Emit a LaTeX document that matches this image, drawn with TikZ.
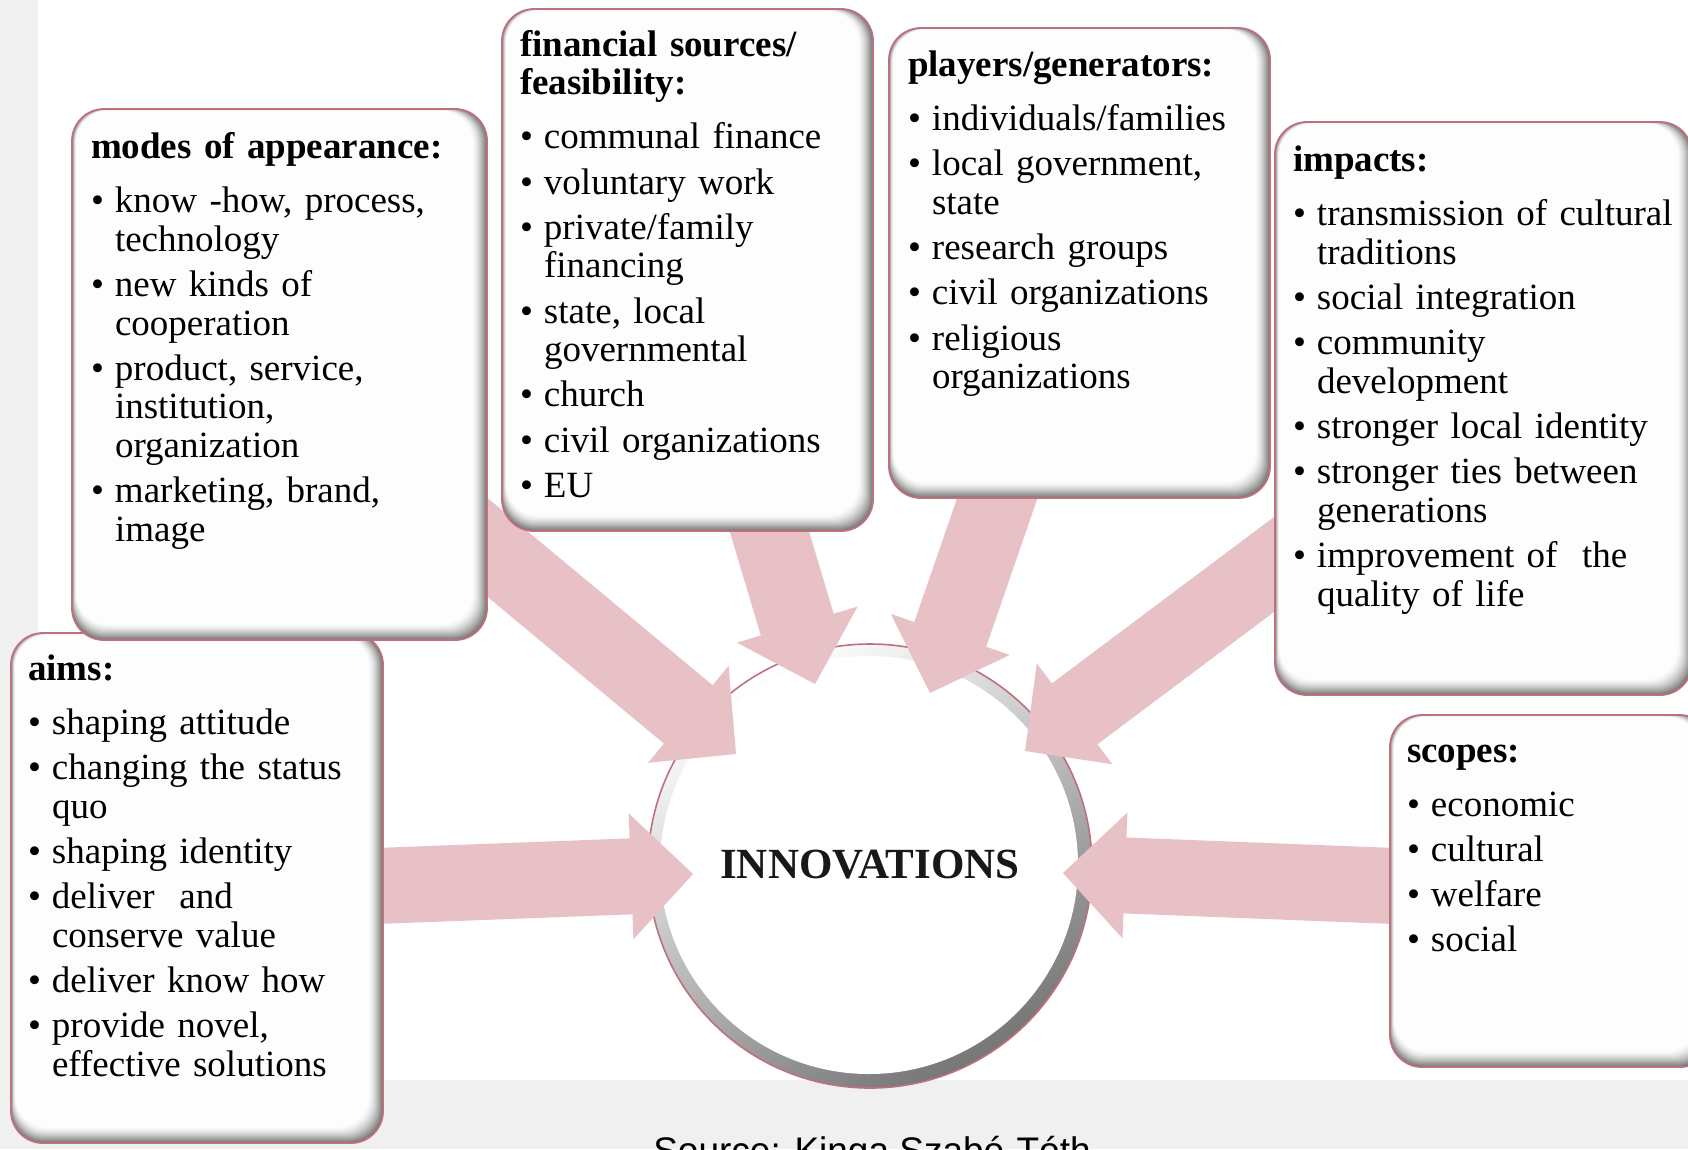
\documentclass[tikz,border=0pt]{standalone}
\usepackage{fontspec}
\setmainfont{Liberation Serif}
\newfontfamily\srcfont{Liberation Sans}
\usetikzlibrary{calc}

\definecolor{pagegray}{RGB}{240,240,240}
\definecolor{arrowpink}{RGB}{231,193,197}
\definecolor{rimred}{RGB}{192,112,122}
\definecolor{ringgray}{RGB}{118,118,118}
\definecolor{inktext}{RGB}{24,24,24}

% heading of a panel and its bullet items
\newcommand\boxtitle[1]{\textbf{#1}\par\vspace{9pt}}
\newcommand\itm[1]{\vspace{6.6pt}\hangindent=24pt\hangafter=1\noindent\makebox[24pt][l]{\textbullet}#1\par}

% white panel with a bevelled, shadowed rim: #1 name, (#2,#3) top left, (#4,#5) bottom right
\newcommand\bevelbox[5]{%
  \foreach \bv in {0,...,14}{%
    \pgfmathsetmacro\shd{54*(1-\bv/15)^1.6}%
    \fill[black!\shd!white, rounded corners=32pt]
      (#2+0.3*\bv,#3+0.12*\bv) rectangle (#4-\bv,#5-1.1*\bv);
  }%
  \draw[rim, rounded corners=32pt] (#2,#3) rectangle (#4,#5);
  \coordinate (#1) at ($(#2,#3)!.5!(#4,#5)$);
}

% broad block arrow from a tail coordinate to a tip coordinate
\newcommand\blockarrow[3]{%
  \coordinate (#1-base) at ($(#3)!62pt!(#2)$);
  \fill[arrowfill]
    ($(#2)!38pt!90:(#3)$) -- ($(#1-base)!38pt!90:(#3)$) --
    ($(#1-base)!63pt!90:(#3)$) -- (#3) --
    ($(#1-base)!63pt!-90:(#3)$) -- ($(#1-base)!38pt!-90:(#3)$) --
    ($(#2)!38pt!-90:(#3)$) -- cycle;
}

\tikzset{
  boxtext/.style={anchor=base west, text width=470pt, align=left,
    font=\fontsize{37}{38.6}\selectfont},
  rim/.style={draw=rimred, line width=1.8pt},
  arrowfill/.style={fill=arrowpink},
}

\begin{document}
\begin{tikzpicture}[x=1pt, y=-1pt, every node/.style={inner sep=0pt, outer sep=0pt}]
\useasboundingbox (0,0) rectangle (1688,1149);
\clip (0,0) rectangle (1688,1149);

% page background
\fill[pagegray] (0,0) rectangle (1688,1149);
\fill[white] (38,0) rectangle (1688,1080);

% central circle with shaded ring
\coordinate (c) at (870,866);
\fill[top color=white, bottom color=ringgray, shading angle=30] (c) circle (222pt);
\fill[white] ($(c)+(-1,-1)$) circle (209pt);
\draw[rimred, line width=1.6pt] (c) circle (222pt);
\node[font=\bfseries\fontsize{43}{46}\selectfont, text=inktext] (inno) at (870,865) {INNOVATIONS};

% arrow ends
\coordinate (tModes)   at (428,498);   \coordinate (hModes)   at (736,754);
\coordinate (tFin)     at (758.5,495); \coordinate (hFin)     at (815,684);
\coordinate (tPlay)    at (1007,470);  \coordinate (hPlay)    at (930,693);
\coordinate (tImp)     at (1320,530);  \coordinate (hImp)     at (1025,751);
\coordinate (tAims)    at (350,887);   \coordinate (hAims)    at (693,874);
\coordinate (tScope)   at (1420,887);  \coordinate (hScope)   at (1063,873);

\blockarrow{aModes}{tModes}{hModes}
\blockarrow{aFin}{tFin}{hFin}
\blockarrow{aPlay}{tPlay}{hPlay}
\blockarrow{aImp}{tImp}{hImp}
\blockarrow{aAims}{tAims}{hAims}
\blockarrow{aScope}{tScope}{hScope}

% panels
\bevelbox{pAims}{11}{633}{383}{1143}
\bevelbox{pModes}{72}{109}{487}{640}
\bevelbox{pFin}{502}{9}{873}{531}
\bevelbox{pPlay}{889}{28}{1270}{498}
\bevelbox{pImp}{1275}{122}{1692}{695}
\bevelbox{pScope}{1390}{715}{1712}{1067}

% panel texts
\node[boxtext] (xModes) at (91,158.5) {\boxtitle{modes of appearance:}%
  \itm{know -how, process,\newline technology}%
  \itm{new kinds of\newline cooperation}%
  \itm{product, service,\newline institution,\newline organization}%
  \itm{marketing, brand,\newline image}};

\node[boxtext] (xFin) at (520,56) {\boxtitle{financial sources/\newline feasibility:}%
  \itm{communal finance}%
  \itm{voluntary work}%
  \itm{private/family\newline financing}%
  \itm{state, local\newline governmental}%
  \itm{church}%
  \itm{civil organizations}%
  \itm{EU}};

\node[boxtext] (xPlay) at (908,76.5) {\boxtitle{players/generators:}%
  \itm{individuals/families}%
  \itm{local government,\newline state}%
  \itm{research groups}%
  \itm{civil organizations}%
  \itm{religious\newline organizations}};

\node[boxtext] (xImp) at (1293,171.5) {\boxtitle{impacts:}%
  \itm{transmission of cultural\newline traditions}%
  \itm{social integration}%
  \itm{community\newline development}%
  \itm{stronger local identity}%
  \itm{stronger ties between\newline generations}%
  \itm{improvement of\ \ the\newline quality of life}};

\node[boxtext] (xScope) at (1407,762) {\boxtitle{scopes:}%
  \itm{economic}%
  \itm{cultural}%
  \itm{welfare}%
  \itm{social}};

\node[boxtext] (xAims) at (28,680) {\boxtitle{aims:}%
  \itm{shaping attitude}%
  \itm{changing the status\newline quo}%
  \itm{shaping identity}%
  \itm{deliver\ \ and\newline conserve value}%
  \itm{deliver know how}%
  \itm{provide novel,\newline effective solutions}};

% source line along the bottom edge
\node[anchor=base, font=\srcfont\fontsize{37}{40}\selectfont] (src) at (872,1163) {Source: Kinga Szabó-Tóth};
\end{tikzpicture}
\end{document}
